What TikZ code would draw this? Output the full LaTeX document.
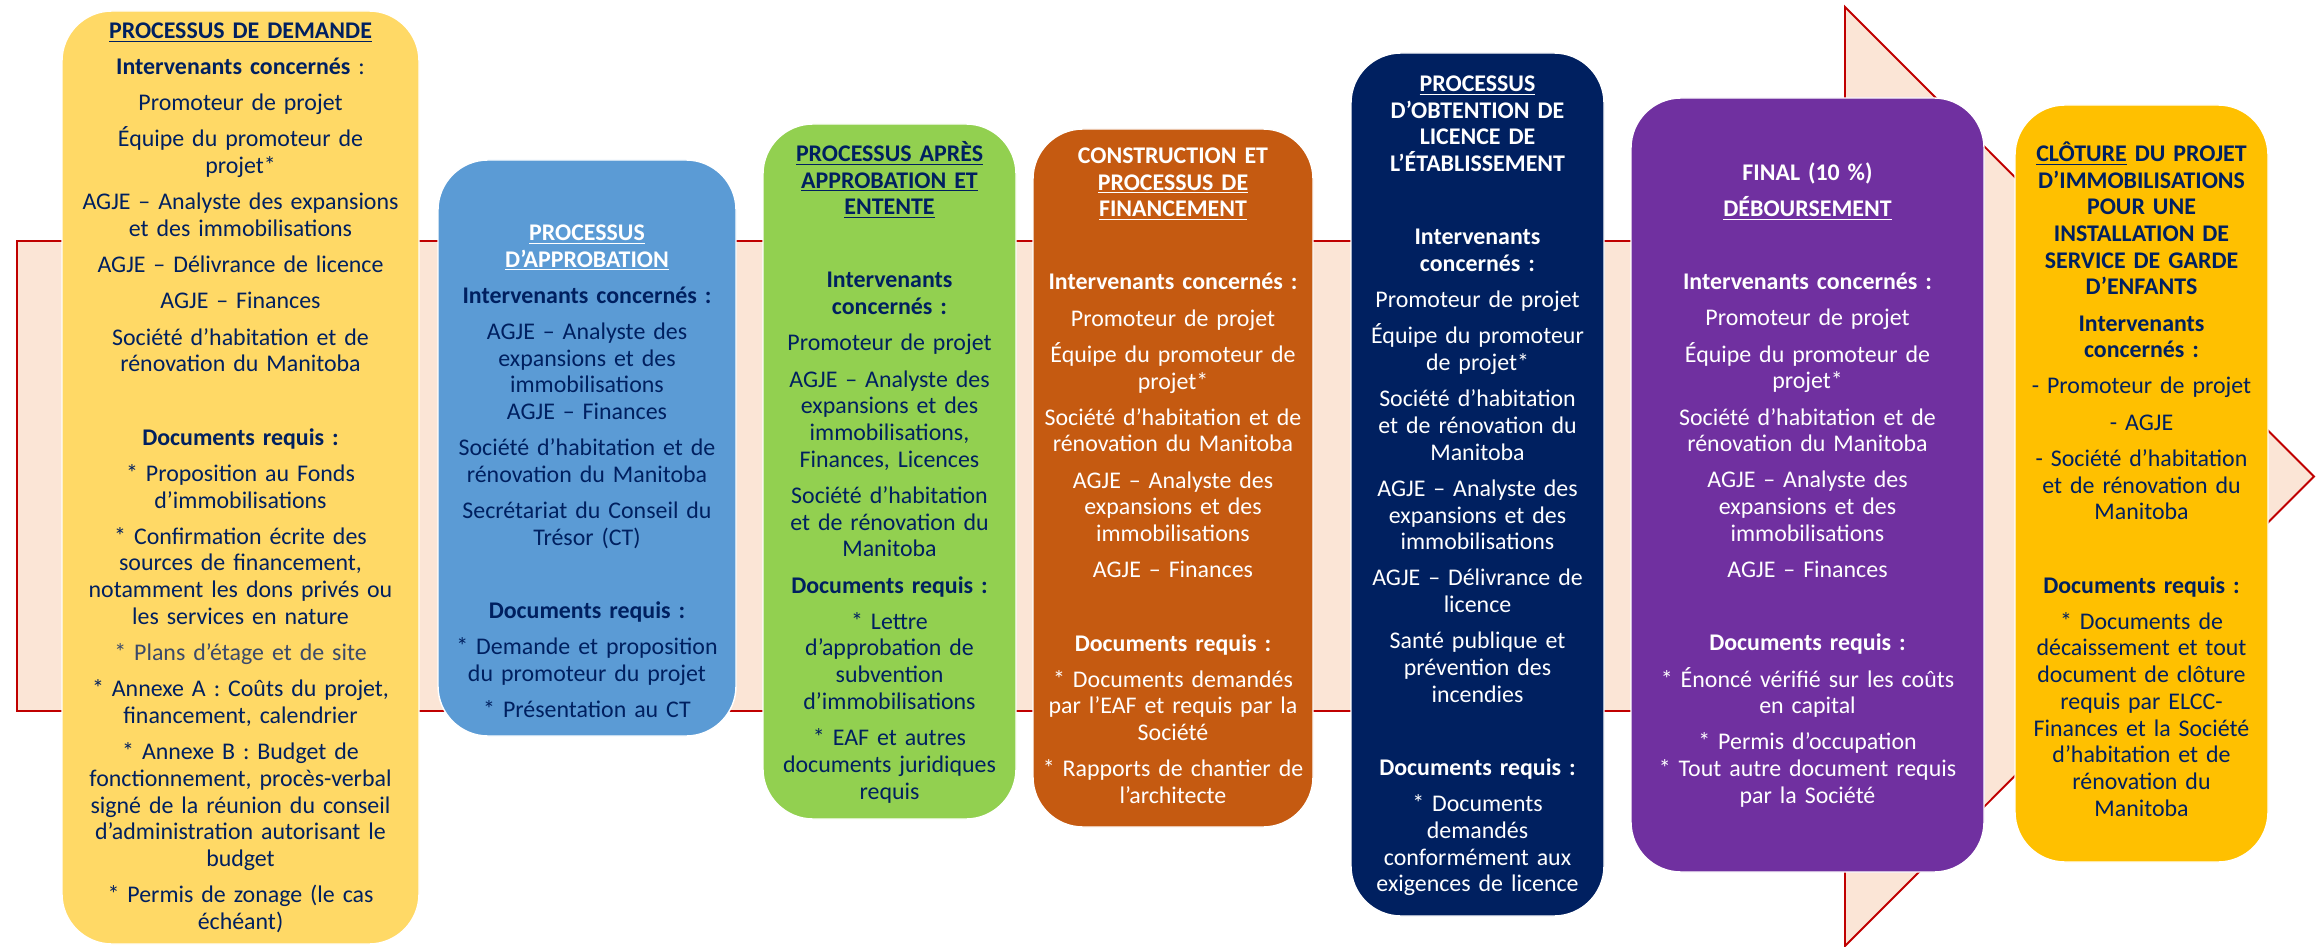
\documentclass[tikz,border=0pt]{standalone}
\usepackage{fontspec}
\setmainfont{Carlito}
\usetikzlibrary{positioning}

\definecolor{peche}{HTML}{FBE5D6}
\definecolor{rouge}{HTML}{C00000}
\definecolor{marine}{HTML}{002060}
\definecolor{grisbleu}{HTML}{3B4A6B}
\definecolor{orpale}{HTML}{FFD966}
\definecolor{bleuciel}{HTML}{5B9BD5}
\definecolor{vertpomme}{HTML}{92D050}
\definecolor{brique}{HTML}{C55A11}
\definecolor{violetf}{HTML}{7030A0}
\definecolor{orvif}{HTML}{FFC000}

\newcommand{\sautp}{\\[0.19cm]}
\newcommand{\sautb}{\\[0.93cm]}
\newcommand{\policeetape}{\fontsize{13.6}{15.2}\selectfont\lineskiplimit=-8pt\relax}

\tikzset{
  fleche/.style={fill=peche, draw=rouge, line width=1.1pt, line join=miter},
  etape/.style={draw=white, line width=0.8pt, rounded corners=1cm},
  texte/.style={anchor=base, align=center, inner sep=0pt, font=\policeetape}
}

\begin{document}
\begin{tikzpicture}
		      \useasboundingbox (0,0) rectangle (46.46,-18.94);
		      % la grande fleche de fond
		      \draw[fleche] (0.34,-4.82) -- (36.9,-4.82) -- (36.9,-0.14) -- (46.28,-9.53)
		        -- (36.9,-18.92) -- (36.9,-14.22) -- (0.34,-14.22) -- cycle;

		      % les etapes
		      \node[etape, fill=orpale, minimum width=7.14cm, minimum height=18.66cm] (demande) at (4.81,-9.55) {};
		      \node[etape, fill=bleuciel, minimum width=5.96cm, minimum height=11.52cm] (approbation) at (11.74,-8.96) {};
		      \node[etape, fill=vertpomme, minimum width=5.06cm, minimum height=13.9cm] (entente) at (17.79,-9.43) {};
		      \node[etape, fill=brique, minimum width=5.6cm, minimum height=13.96cm] (construction) at (23.46,-9.56) {};
		      \node[etape, fill=marine, minimum width=5.06cm, minimum height=17.26cm] (licence) at (29.55,-9.69) {};
		      \node[etape, fill=violetf, minimum width=7.06cm, minimum height=15.48cm] (final) at (36.15,-9.7) {};
		      \node[etape, fill=orvif, minimum width=5.06cm, minimum height=15.14cm] (cloture) at (42.83,-9.67) {};

		      \node[texte, text=marine, text width=7.4cm] (demandeT) at ([yshift=-0.56cm]demande.north) {%
		        \textbf{\underline{PROCESSUS DE DEMANDE}}\sautp
		        \textbf{Intervenants concernés} :\sautp
		        Promoteur de projet\sautp
		        Équipe du promoteur de\\ projet*\sautp
		        AGJE – Analyste des expansions\\ et des immobilisations\sautp
		        AGJE – Délivrance de licence\sautp
		        AGJE – Finances\sautp
		        Société d’habitation et de\\ rénovation du Manitoba\sautb
		        \textbf{Documents requis :}\sautp
		        * Proposition au Fonds\\ d’immobilisations\sautp
		        * Confirmation écrite des\\ sources de financement,\\ notamment les dons privés ou\\ les services en nature\sautp
		        {\color{grisbleu}* Plans d’étage et de site}\sautp
		        * Annexe A : Coûts du projet,\\ financement, calendrier\sautp
		        * Annexe B : Budget de\\ fonctionnement, procès-verbal\\ signé de la réunion du conseil\\ d’administration autorisant le\\ budget\sautp
		        * Permis de zonage (le cas\\ échéant)};

		      \node[texte, text=marine, text width=6.3cm] (approbationT) at ([yshift=-1.62cm]approbation.north) {%
		        \textcolor{white}{\textbf{\underline{PROCESSUS}}}\\
		        \textcolor{white}{\textbf{\underline{D’APPROBATION}}}\sautp
		        \textbf{Intervenants concernés :}\sautp
		        AGJE – Analyste des\\ expansions et des\\ immobilisations\\ AGJE – Finances\sautp
		        Société d’habitation et de\\ rénovation du Manitoba\sautp
		        Secrétariat du Conseil du\\ Trésor (CT)\sautb
		        \textbf{Documents requis :}\sautp
		        * Demande et proposition\\ du promoteur du projet\sautp
		        * Présentation au CT};

		      \node[texte, text=marine, text width=5.4cm] (ententeT) at ([yshift=-0.76cm]entente.north) {%
		        \textbf{\underline{PROCESSUS APRÈS}}\\ \textbf{\underline{APPROBATION ET}}\\ \textbf{\underline{ENTENTE}}\sautb
		        \textbf{Intervenants}\\ \textbf{concernés :}\sautp
		        Promoteur de projet\sautp
		        AGJE – Analyste des\\ expansions et des\\ immobilisations,\\ Finances, Licences\sautp
		        Société d’habitation\\ et de rénovation du\\ Manitoba\sautp
		        \textbf{Documents requis :}\sautp
		        * Lettre\\ d’approbation de\\ subvention\\ d’immobilisations\sautp
		        * EAF et autres\\ documents juridiques\\ requis};

		      \node[texte, text=white, text width=5.9cm] (constructionT) at ([yshift=-0.70cm]construction.north) {%
		        \textbf{CONSTRUCTION ET}\\ \textbf{\underline{PROCESSUS DE}}\\ \textbf{\underline{FINANCEMENT}}\sautb
		        \textbf{Intervenants concernés :}\sautp
		        Promoteur de projet\sautp
		        Équipe du promoteur de\\ projet*\sautp
		        Société d’habitation et de\\ rénovation du Manitoba\sautp
		        AGJE – Analyste des\\ expansions et des\\ immobilisations\sautp
		        AGJE – Finances\sautb
		        \textbf{Documents requis :}\sautp
		        * Documents demandés\\ par l’EAF et requis par la\\ Société\sautp
		        * Rapports de chantier de\\ l’architecte};

		      \node[texte, text=white, text width=5.4cm] (licenceT) at ([yshift=-0.78cm]licence.north) {%
		        \textbf{\underline{PROCESSUS}}\\ \textbf{D’OBTENTION DE}\\ \textbf{LICENCE DE}\\ \textbf{L’ÉTABLISSEMENT}\sautb
		        \textbf{Intervenants}\\ \textbf{concernés :}\sautp
		        Promoteur de projet\sautp
		        Équipe du promoteur\\ de projet*\sautp
		        Société d’habitation\\ et de rénovation du\\ Manitoba\sautp
		        AGJE – Analyste des\\ expansions et des\\ immobilisations\sautp
		        AGJE – Délivrance de\\ licence\sautp
		        Santé publique et\\ prévention des\\ incendies\sautb
		        \textbf{Documents requis :}\sautp
		        * Documents\\ demandés\\ conformément aux\\ exigences de licence};

		      \node[texte, text=white, text width=7.3cm] (finalT) at ([yshift=-1.66cm]final.north) {%
		        \textbf{FINAL (10~\%)}\sautp
		        \textbf{\underline{DÉBOURSEMENT}}\sautb
		        \textbf{Intervenants concernés :}\sautp
		        Promoteur de projet\sautp
		        Équipe du promoteur de\\ projet*\sautp
		        Société d’habitation et de\\ rénovation du Manitoba\sautp
		        AGJE – Analyste des\\ expansions et des\\ immobilisations\sautp
		        AGJE – Finances\sautb
		        \textbf{Documents requis :}\sautp
		        * Énoncé vérifié sur les coûts\\ en capital\sautp
		        * Permis d’occupation\\ {*} Tout autre document requis\\ par la Société};

		      \node[texte, text=marine, text width=5.4cm] (clotureT) at ([yshift=-1.14cm]cloture.north) {%
		        \textbf{\underline{CLÔTURE} DU PROJET}\\ \textbf{D’IMMOBILISATIONS}\\ \textbf{POUR UNE}\\
		        \textbf{INSTALLATION DE}\\ \textbf{SERVICE DE GARDE}\\ \textbf{D’ENFANTS}\sautp
		        \textbf{Intervenants}\\ \textbf{concernés :}\sautp
		        - Promoteur de projet\sautp
		        - AGJE\sautp
		        - Société d’habitation\\ et de rénovation du\\ Manitoba\sautb
		        \textbf{Documents requis :}\sautp
		        * Documents de\\ décaissement et tout\\ document de clôture\\ requis par ELCC-\\ Finances et la Société\\ d’habitation et de\\ rénovation du\\ Manitoba};

	      \end{tikzpicture}
\end{document}
